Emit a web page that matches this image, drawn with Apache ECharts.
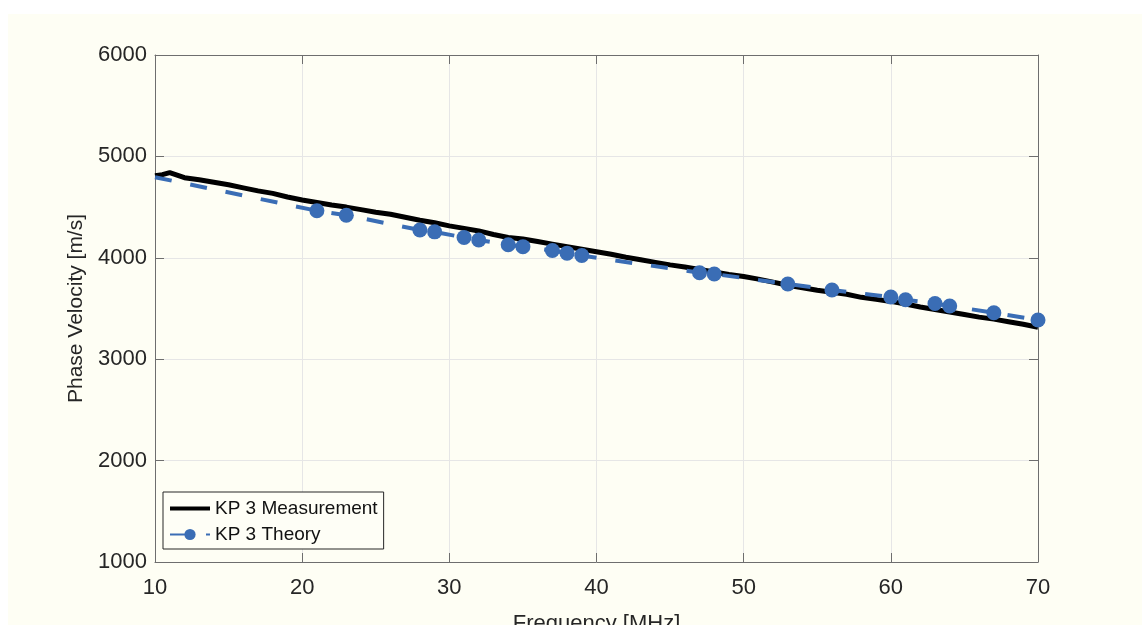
<!DOCTYPE html>
<html>
<head>
<meta charset="utf-8">
<script src="https://cdn.jsdelivr.net/npm/echarts@6/dist/echarts.min.js"></script>
<style>
  html, body { margin: 0; padding: 0; background: #ffffff; width: 1142px; height: 625px; overflow: hidden; }
  #chart { position: absolute; left: 8px; top: 14px; width: 1134px; height: 611px; }
</style>
</head>
<body>
<div id="chart"></div>
<script>
// Measurement (frequency MHz, phase velocity m/s)
const measFreq = [10, 10.5, 11, 11.5, 12, 13, 14, 15, 16, 17, 18, 19, 20, 21, 22, 23, 24, 25, 26, 27, 28, 29, 30,
  31, 32, 33, 34, 35, 36, 37, 38, 39, 40, 41, 42, 43, 44, 45, 46, 47, 48, 49, 50,
  51, 52, 53, 54, 55, 56, 57, 58, 59, 60, 61, 62, 63, 64, 65, 66, 67, 68, 69, 70];
const measVel = [4810, 4820, 4840, 4815, 4790, 4770, 4745, 4720, 4690, 4660, 4635, 4600, 4570, 4545, 4520, 4500, 4475, 4450, 4430, 4400, 4370, 4345, 4315,
  4290, 4265, 4230, 4200, 4185, 4160, 4135, 4110, 4085, 4060, 4035, 4005, 3980, 3955, 3930, 3910, 3885, 3860, 3835, 3815,
  3790, 3760, 3730, 3705, 3680, 3660, 3640, 3610, 3590, 3570, 3545, 3515, 3490, 3465, 3440, 3415, 3395, 3370, 3345, 3315];

// Theory
const theoFreq = [10, 21, 23, 28, 29, 31, 32, 34, 35, 37, 38, 39, 47, 48, 53, 56, 60, 61, 63, 64, 67, 70];
const theoVel = [4795, 4464, 4420, 4274, 4256, 4200, 4176, 4128, 4110, 4072, 4046, 4022, 3853, 3840, 3742, 3682, 3613, 3586, 3550, 3525, 3458, 3387];

const xTicks = [10, 20, 30, 40, 50, 60, 70];
const yTicks = [1000, 2000, 3000, 4000, 5000, 6000];

const seriesNames = ['KP 3 Measurement', 'KP 3 Theory'];

const FONT = '"Liberation Sans", Arial, Helvetica, sans-serif';
const AX = '#6e6e6e';
const TXT = '#262626';
const GRIDC = '#e6e6e6';
const BLUE = '#3a6db5';

const chart = echarts.init(document.getElementById('chart'), null, { renderer: 'canvas' });

const baseAxis = {
  axisLine: { show: true, lineStyle: { color: AX, width: 1 } },
  axisTick: { show: true, inside: true, length: 9, lineStyle: { color: AX } },
  splitLine: { show: false }
};

const option = {
  backgroundColor: '#fefef4',
  animation: false,
  grid: { left: 147, top: 41, right: 104, bottom: 63, containLabel: false, outerBoundsMode: 'none' },
  legend: {
    orient: 'vertical',
    left: 155,
    top: 478,
    data: [
      { name: seriesNames[0], icon: 'path://M0,0 M40,14 M0,5 L40,5 L40,9 L0,9 Z' },
      { name: seriesNames[1] }
    ],
    backgroundColor: '#fefef6',
    borderColor: '#262626',
    borderWidth: 1,
    borderRadius: 0,
    padding: [7, 6, 5, 6],
    itemGap: 7,
    itemWidth: 40,
    itemHeight: 14,
    textStyle: { fontFamily: FONT, fontSize: 19, color: '#111' }
  },
  xAxis: [
    Object.assign({}, baseAxis, {
      type: 'value', min: xTicks[0], max: xTicks[xTicks.length - 1], interval: 10,
      position: 'bottom',
      axisLabel: { fontFamily: FONT, fontSize: 22, color: TXT, margin: 15 },
      splitLine: { show: true, lineStyle: { color: GRIDC, width: 1 } },
      name: 'Frequency [MHz]', nameLocation: 'middle', nameGap: 51,
      nameTextStyle: { fontFamily: FONT, fontSize: 22, color: TXT }
    }),
    Object.assign({}, baseAxis, {
      type: 'value', min: xTicks[0], max: xTicks[xTicks.length - 1], interval: 10,
      position: 'top', axisLabel: { show: false }
    })
  ],
  yAxis: [
    Object.assign({}, baseAxis, {
      type: 'value', min: yTicks[0], max: yTicks[yTicks.length - 1], interval: 1000,
      position: 'left',
      axisLabel: { fontFamily: FONT, fontSize: 22, color: TXT, margin: 8, formatter: v => String(v) },
      splitLine: { show: true, lineStyle: { color: GRIDC, width: 1 } },
      name: 'Phase Velocity [m/s]', nameLocation: 'middle', nameGap: 68, nameRotate: 90,
      nameTextStyle: { fontFamily: FONT, fontSize: 21, color: TXT }
    }),
    Object.assign({}, baseAxis, {
      type: 'value', min: yTicks[0], max: yTicks[yTicks.length - 1], interval: 1000,
      position: 'right', axisLabel: { show: false }
    })
  ],
  series: [
    {
      name: seriesNames[0],
      type: 'line',
      xAxisIndex: 0, yAxisIndex: 0,
      data: measFreq.map((f, i) => [f, measVel[i]]),
      showSymbol: false,
      symbol: 'none',
      lineStyle: { color: '#000000', width: 5 },
      itemStyle: { color: '#000000' },
      z: 2
    },
    {
      name: seriesNames[1],
      type: 'line',
      xAxisIndex: 0, yAxisIndex: 0,
      data: theoFreq.map((f, i) => [f, theoVel[i]]),
      symbol: 'circle',
      symbolSize: (val, params) => (params && params.dataIndex === 0 ? 0 : 15),
      showAllSymbol: true,
      lineStyle: { color: BLUE, width: 4, type: [17, 19] },
      itemStyle: { color: BLUE, borderWidth: 0 },
      z: 3
    }
  ]
};

chart.setOption(option);
</script>
</body>
</html>
